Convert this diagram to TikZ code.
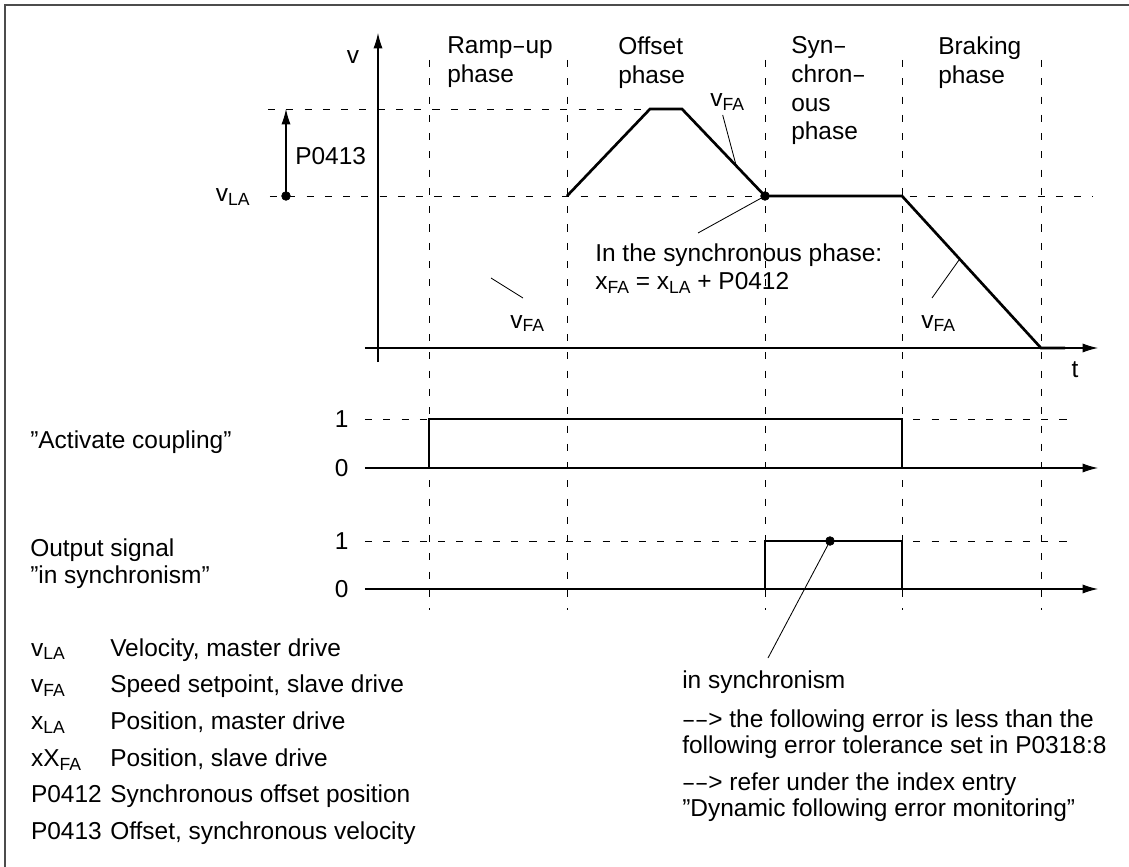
\documentclass[tikz,border=0pt]{standalone}
\usepackage{fontspec}
\usepackage{graphicx}
\setmainfont{Liberation Sans}
\usetikzlibrary{arrows.meta,positioning}
\newcommand\lowidx[1]{\raisebox{-2.8pt}{\fontsize{12.5}{12.5}\selectfont #1}}
\newcommand\shortdash{\kern1pt\scalebox{0.75}[1]{–}\kern1pt}
\newcommand\pointer{\shortdash\shortdash>}
\tikzset {
  >={Latex[length=11pt,width=6.5pt]},
  every node/.style={font=\fontsize{17.4}{20.4}\selectfont,inner sep=0pt},
  note/.style={anchor=north west,align=left,font=\fontsize{17.4}{18.8}\selectfont},
  phase/.style={anchor=north west,align=left},
  phaseline/.style={line width=0.6pt,dash pattern=on 5pt off 8pt},
  axisline/.style={line width=0.75pt},
  sigline/.style={line width=1.9pt},
  leader/.style={line width=0.6pt},
}

\begin{document}
\begin{tikzpicture}
      \useasboundingbox (-9.45,-12.975) rectangle (18.775,8.7);
      \draw[line width=1.2pt,black!70] (18.8,8.575) -- (-9.325,8.575) -- (-9.325,-13);

      \foreach \x in {1.275,4.725,9.675,13.1,16.575}
        \draw[phaseline] (\x,7.2) -- (\x,-6.55);
      \draw[phaseline] (-2.75,5.975) -- (6.8,5.975);
      \draw[phaseline] (-2.7,3.8) -- (17.875,3.8);
      \draw[phaseline] (-0.325,-1.775) -- (17.35,-1.775);
      \draw[phaseline] (-0.325,-4.825) -- (17.35,-4.825);

      \draw[axisline,->] (0,-0.35) -- (0,7.875);
      \draw[axisline,->] (-0.325,0) -- (18,0);
      \draw[axisline,->] (-0.325,-3) -- (18,-3);
      \draw[axisline,->] (-0.325,-6.025) -- (18,-6.025);
      \node (v) at (-0.625,7.275) {v};
      \node (t) at (17.425,-0.55) {t};

      \node (ramp) at (1.725,7.79)[phase]{Ramp\shortdash up\\phase};
      \node (offset) at (6.0,7.79)[phase]{Offset\\phase};
      \node (syn) at (10.325,7.79)[phase]{Syn\shortdash\\chron\shortdash\\ous\\phase};
      \node (brake) at (14.0,7.79)[phase]{Braking\\phase};

      % master velocity and offset
      \coordinate (vla) at (-2.3,3.8);
      \coordinate (vtop) at (-2.3,5.975);
      \draw[axisline,->] (vla) -- (vtop);
      \filldraw (vla) circle[radius=.11];
      \node (p413) at (-2.075,4.8)[anchor=west]{P0413};
      \node (vlalabel) at (-3.2,3.65)[anchor=base east]{v\lowidx{LA}};

      % slave speed setpoint
      \draw[sigline] (0.225,0) -- (1.275,0);
      \draw[sigline] (4.725,3.8) -- (6.8,5.975) -- (7.6,5.975) -- (9.675,3.8)
        -- (13.1,3.8) -- (16.575,0) -- (17.175,0);
      \coordinate (syncpt) at (9.675,3.8);
      \filldraw (syncpt) circle[radius=.11];

      \node (vfaoff) at (8.3,6.025)[anchor=base west]{v\lowidx{FA}};
      \coordinate (offend) at (8.95,4.575);
      \draw[leader] (8.617,5.825) -- (offend);
      \node (vfaramp) at (3.3,0.5)[anchor=base west]{v\lowidx{FA}};
      \coordinate (rampend) at (2.825,1.75);
      \draw[leader] (rampend) -- (3.625,1.25);
      \node (vfabrake) at (13.575,0.5)[anchor=base west]{v\lowidx{FA}};
      \coordinate (brakeend) at (14.525,2.2);
      \draw[leader] (brakeend) -- (13.85,1.25);

      \node (syncnote) at (5.425,2.625)[phase]
        {In the synchronous phase:\\x\lowidx{FA} = x\lowidx{LA} + P0412};
      \coordinate (notetip) at (8.0,2.875);
      \draw[leader] (notetip) -- (syncpt);

      % signals
      \node (one1) at (-0.73,-1.775)[anchor=east]{1};
      \node (zero1) at (-0.73,-3)[anchor=east]{0};
      \node (one2) at (-0.73,-4.825)[anchor=east]{1};
      \node (zero2) at (-0.73,-6.025)[anchor=east]{0};
      \draw[sigline] (0.475,-3) -- (1.275,-3) -- (1.275,-1.775) -- (13.1,-1.775)
        -- (13.1,-3) -- (16.95,-3);
      \draw[sigline] (0.475,-6.025) -- (9.675,-6.025) -- (9.675,-4.825) -- (13.1,-4.825)
        -- (13.1,-6.025) -- (16.95,-6.025);
      \coordinate (insyncpt) at (11.3,-4.825);
      \filldraw (insyncpt) circle[radius=.11];

      \node (couple) at (-8.7,-2.5)[anchor=base west]{”Activate coupling”};
      \node (output) at (-8.7,-4.77)[note]{Output signal\\”in synchronism”};

      % legend
      \node (lsym1) at (-8.68,-7.7)[anchor=base west]{v\lowidx{LA}};
      \node (ldesc1) at (-6.7,-7.7)[anchor=base west]{Velocity, master drive};
      \node (lsym2) at (-8.68,-8.6175)[anchor=base west]{v\lowidx{FA}};
      \node (ldesc2) at (-6.7,-8.6175)[anchor=base west]{Speed setpoint, slave drive};
      \node (lsym3) at (-8.68,-9.535)[anchor=base west]{x\lowidx{LA}};
      \node (ldesc3) at (-6.7,-9.535)[anchor=base west]{Position, master drive};
      \node (lsym4) at (-8.68,-10.4525)[anchor=base west]{xX\lowidx{FA}};
      \node (ldesc4) at (-6.7,-10.4525)[anchor=base west]{Position, slave drive};
      \node (lsym5) at (-8.68,-11.37)[anchor=base west]{P0412};
      \node (ldesc5) at (-6.7,-11.37)[anchor=base west]{Synchronous offset position};
      \node (lsym6) at (-8.68,-12.2875)[anchor=base west]{P0413};
      \node (ldesc6) at (-6.7,-12.2875)[anchor=base west]{Offset, synchronous velocity};

      % in synchronism remark
      \node (insync) at (7.6,-8.5)[anchor=base west]{in synchronism};
      \coordinate (insynctail) at (9.75,-7.75);
      \draw[leader] (insyncpt) -- (insynctail);
      \node (errnote) at (7.6,-9.03)[note]
        {\pointer{} the following error is less than the\\following error tolerance set in P0318:8};
      \node (refnote) at (7.6,-10.605)[note]
        {\pointer{} refer under the index entry\\”Dynamic following error monitoring”};
    \end{tikzpicture}
\end{document}
